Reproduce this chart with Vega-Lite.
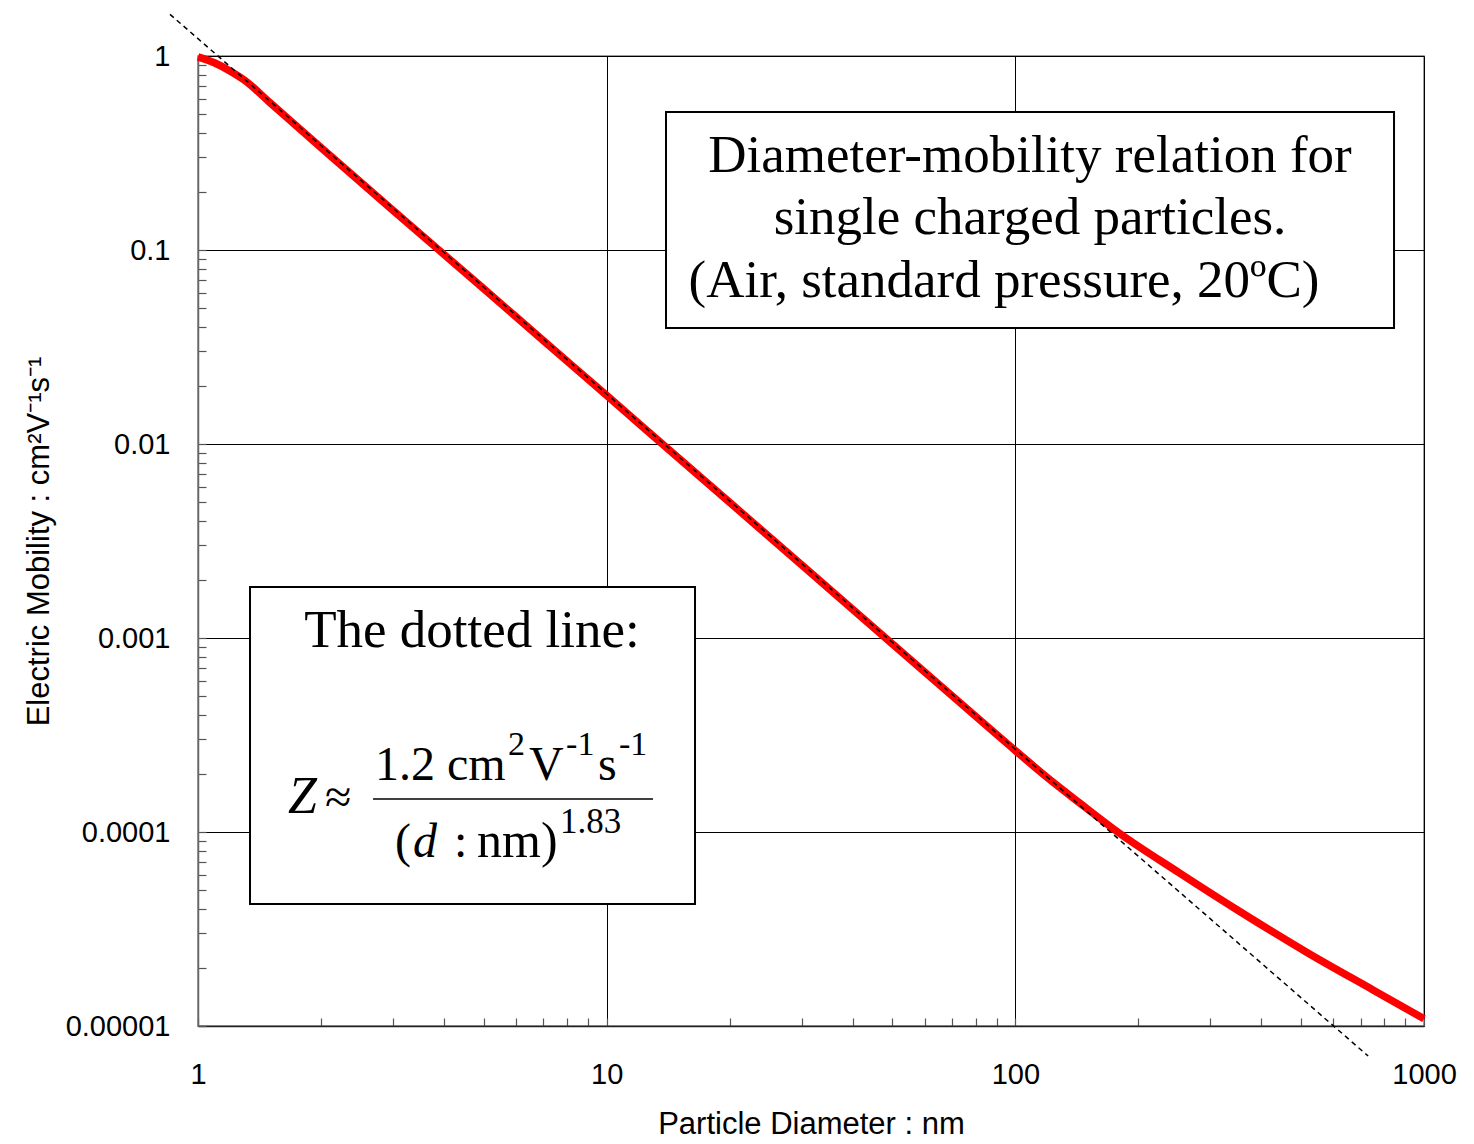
{
  "$schema": "https://vega.github.io/schema/vega-lite/v6.json",
  "width": 1226,
  "height": 970,
  "autosize": {"type": "none"},
  "padding": {"left": 198, "top": 56, "right": 50, "bottom": 118},
  "background": "white",
  "data": {"values": [{}]},
  "config": {
    "view": {"stroke": "#808080", "strokeWidth": 1.5},
    "axis": {"labelFont": "Liberation Sans", "titleFont": "Liberation Sans", "labelColor": "black", "titleColor": "black", "titleFontWeight": "normal"}
  },
  "datasets": {
    "mobility": [
      {"d": 1, "z": 0.99},
      {"d": 1.1, "z": 0.92},
      {"d": 1.2, "z": 0.835},
      {"d": 1.3, "z": 0.75},
      {"d": 1.5, "z": 0.575},
      {"d": 2, "z": 0.337},
      {"d": 3, "z": 0.16},
      {"d": 5, "z": 0.0632},
      {"d": 7, "z": 0.0341},
      {"d": 10, "z": 0.0178},
      {"d": 15, "z": 0.00845},
      {"d": 20, "z": 0.005},
      {"d": 30, "z": 0.00238},
      {"d": 50, "z": 0.000932},
      {"d": 70, "z": 0.000504},
      {"d": 100, "z": 0.000263},
      {"d": 120, "z": 0.00019},
      {"d": 144, "z": 0.0001406},
      {"d": 178, "z": 0.0001},
      {"d": 253, "z": 0.0000612},
      {"d": 355, "z": 0.0000388},
      {"d": 516, "z": 0.000024},
      {"d": 752, "z": 0.0000153},
      {"d": 1000, "z": 0.0000109}
    ],
    "fit": [
      {"d": 0.854, "z": 1.64},
      {"d": 730, "z": 0.000007}
    ]
  },
  "layer": [
    {
      "data": {"name": "mobility"},
      "mark": {"type": "line", "color": "#FF0000", "strokeWidth": 7.5, "strokeCap": "butt", "strokeJoin": "round", "interpolate": "monotone", "clip": false},
      "encoding": {
        "x": {
          "field": "d", "type": "quantitative",
          "scale": {"type": "log", "domain": [1, 1000], "nice": false},
          "axis": {
            "title": "Particle Diameter : nm",
            "titleFontSize": 31,
            "titlePadding": 20,
            "values": [1,2,3,4,5,6,7,8,9,10,20,30,40,50,60,70,80,90,100,200,300,400,500,600,700,800,900,1000],
            "format": "d",
            "labelExpr": "abs(log(datum.value)/LN10 - round(log(datum.value)/LN10)) < 0.0001 ? datum.label : ''",
            "labelFontSize": 29,
            "labelPadding": 42,
            "labelOverlap": false,
            "labelFlush": false,
            "tickSize": -8,
            "tickColor": "#555555",
            "tickWidth": 1.2,
            "domainColor": "#222222",
            "domainWidth": 1.5,
            "grid": true,
            "gridColor": "black",
            "gridWidth": 1,
            "gridOpacity": {"condition": {"test": "abs(log(datum.value)/LN10 - round(log(datum.value)/LN10)) < 0.0001", "value": 1}, "value": 0}
          }
        },
        "y": {
          "field": "z", "type": "quantitative",
          "scale": {"type": "log", "domain": [0.00001, 1], "nice": false},
          "axis": {
            "title": "Electric Mobility : cm²V⁻¹s⁻¹",
            "titleFontSize": 31,
            "titlePadding": 10,
            "values": [0.00001,0.00002,0.00003,0.00004,0.00005,0.00006,0.00007,0.00008,0.00009,0.0001,0.0002,0.0003,0.0004,0.0005,0.0006,0.0007,0.0008,0.0009,0.001,0.002,0.003,0.004,0.005,0.006,0.007,0.008,0.009,0.01,0.02,0.03,0.04,0.05,0.06,0.07,0.08,0.09,0.1,0.2,0.3,0.4,0.5,0.6,0.7,0.8,0.9,1],
            "format": ".5~f",
            "labelExpr": "abs(log(datum.value)/LN10 - round(log(datum.value)/LN10)) < 0.0001 ? datum.label : ''",
            "labelFontSize": 29,
            "labelPadding": 36,
            "labelOverlap": false,
            "labelFlush": false,
            "tickSize": -8,
            "tickColor": "#555555",
            "tickWidth": 1.2,
            "domainColor": "#666666",
            "domainWidth": 1.5,
            "grid": true,
            "gridColor": "black",
            "gridWidth": 1,
            "gridOpacity": {"condition": {"test": "abs(log(datum.value)/LN10 - round(log(datum.value)/LN10)) < 0.0001", "value": 1}, "value": 0}
          }
        }
      }
    },
    {
      "data": {"name": "fit"},
      "mark": {"type": "line", "color": "black", "strokeWidth": 1.5, "strokeDash": [5, 4], "clip": false},
      "encoding": {
        "x": {"field": "d", "type": "quantitative"},
        "y": {"field": "z", "type": "quantitative"}
      }
    },
    {
      "mark": {"type": "rect", "fill": "white", "stroke": "black", "strokeWidth": 2},
      "encoding": {
        "x": {"datum": 13.97, "type": "quantitative"}, "x2": {"datum": 844.6},
        "y": {"datum": 0.51443, "type": "quantitative"}, "y2": {"datum": 0.039628}
      }
    },
    {
      "mark": {"type": "rect", "fill": "white", "stroke": "black", "strokeWidth": 2},
      "encoding": {
        "x": {"datum": 1.3405, "type": "quantitative"}, "x2": {"datum": 16.451},
        "y": {"datum": 0.0018323, "type": "quantitative"}, "y2": {"datum": 0.00004254}
      }
    },
    {
      "mark": {"type": "text", "text": "Diameter-mobility relation for", "font": "Liberation Serif", "fontSize": 53, "align": "center", "baseline": "alphabetic", "color": "black"},
      "encoding": {"x": {"datum": 108.61, "type": "quantitative"}, "y": {"datum": 0.25236, "type": "quantitative"}}
    },
    {
      "mark": {"type": "text", "text": "single charged particles.", "font": "Liberation Serif", "fontSize": 53, "align": "center", "baseline": "alphabetic", "color": "black"},
      "encoding": {"x": {"datum": 108.61, "type": "quantitative"}, "y": {"datum": 0.12092, "type": "quantitative"}}
    },
    {
      "mark": {"type": "text", "text": "(Air, standard pressure, 20ºC)", "font": "Liberation Serif", "fontSize": 53, "align": "center", "baseline": "alphabetic", "color": "black"},
      "encoding": {"x": {"datum": 93.81, "type": "quantitative"}, "y": {"datum": 0.057249, "type": "quantitative"}}
    },
    {
      "mark": {"type": "text", "text": "The dotted line:", "font": "Liberation Serif", "fontSize": 53, "align": "center", "baseline": "alphabetic", "color": "black"},
      "encoding": {"x": {"datum": 4.6826, "type": "quantitative"}, "y": {"datum": 0.00089877, "type": "quantitative"}}
    },
    {
      "mark": {"type": "text", "text": "Z", "font": "Liberation Serif", "fontStyle": "italic", "fontSize": 52, "align": "left", "baseline": "alphabetic", "color": "black"},
      "encoding": {"x": {"datum": 1.6606, "type": "quantitative"}, "y": {"datum": 0.00012531, "type": "quantitative"}}
    },
    {
      "mark": {"type": "text", "text": "≈", "font": "Liberation Serif", "fontSize": 48, "align": "left", "baseline": "alphabetic", "color": "black"},
      "encoding": {"x": {"datum": 2.0455, "type": "quantitative"}, "y": {"datum": 0.00012531, "type": "quantitative"}}
    },
    {
      "mark": {"type": "text", "text": "1.2 cm", "font": "Liberation Serif", "fontSize": 48, "align": "left", "baseline": "alphabetic", "color": "black"},
      "encoding": {"x": {"datum": 2.7116, "type": "quantitative"}, "y": {"datum": 0.00018535, "type": "quantitative"}}
    },
    {
      "mark": {"type": "text", "text": "2", "font": "Liberation Serif", "fontSize": 34, "align": "left", "baseline": "alphabetic", "color": "black"},
      "encoding": {"x": {"datum": 5.7349, "type": "quantitative"}, "y": {"datum": 0.00024929, "type": "quantitative"}}
    },
    {
      "mark": {"type": "text", "text": "V", "font": "Liberation Serif", "fontSize": 48, "align": "left", "baseline": "alphabetic", "color": "black"},
      "encoding": {"x": {"datum": 6.4557, "type": "quantitative"}, "y": {"datum": 0.00018535, "type": "quantitative"}}
    },
    {
      "mark": {"type": "text", "text": "-1", "font": "Liberation Serif", "fontSize": 34, "align": "left", "baseline": "alphabetic", "color": "black"},
      "encoding": {"x": {"datum": 7.955, "type": "quantitative"}, "y": {"datum": 0.00024929, "type": "quantitative"}}
    },
    {
      "mark": {"type": "text", "text": "s", "font": "Liberation Serif", "fontSize": 48, "align": "left", "baseline": "alphabetic", "color": "black"},
      "encoding": {"x": {"datum": 9.524, "type": "quantitative"}, "y": {"datum": 0.00018535, "type": "quantitative"}}
    },
    {
      "mark": {"type": "text", "text": "-1", "font": "Liberation Serif", "fontSize": 34, "align": "left", "baseline": "alphabetic", "color": "black"},
      "encoding": {"x": {"datum": 10.719, "type": "quantitative"}, "y": {"datum": 0.00024929, "type": "quantitative"}}
    },
    {
      "mark": {"type": "rule", "color": "black", "strokeWidth": 1.5},
      "encoding": {"x": {"datum": 2.6812, "type": "quantitative"}, "x2": {"datum": 12.984}, "y": {"datum": 0.00014798, "type": "quantitative"}}
    },
    {
      "mark": {"type": "text", "text": "(", "font": "Liberation Serif", "fontSize": 48, "align": "left", "baseline": "alphabetic", "color": "black"},
      "encoding": {"x": {"datum": 3.0344, "type": "quantitative"}, "y": {"datum": 0.000074307, "type": "quantitative"}}
    },
    {
      "mark": {"type": "text", "text": "d", "font": "Liberation Serif", "fontStyle": "italic", "fontSize": 48, "align": "left", "baseline": "alphabetic", "color": "black"},
      "encoding": {"x": {"datum": 3.3581, "type": "quantitative"}, "y": {"datum": 0.000074307, "type": "quantitative"}}
    },
    {
      "mark": {"type": "text", "text": ":", "font": "Liberation Serif", "fontSize": 48, "align": "left", "baseline": "alphabetic", "color": "black"},
      "encoding": {"x": {"datum": 4.2307, "type": "quantitative"}, "y": {"datum": 0.000074307, "type": "quantitative"}}
    },
    {
      "mark": {"type": "text", "text": "nm)", "font": "Liberation Serif", "fontSize": 50, "align": "left", "baseline": "alphabetic", "color": "black"},
      "encoding": {"x": {"datum": 4.8165, "type": "quantitative"}, "y": {"datum": 0.000074307, "type": "quantitative"}}
    },
    {
      "mark": {"type": "text", "text": "1.83", "font": "Liberation Serif", "fontSize": 35, "align": "left", "baseline": "alphabetic", "color": "black"},
      "encoding": {"x": {"datum": 7.6897, "type": "quantitative"}, "y": {"datum": 0.00009882, "type": "quantitative"}}
    }
  ]
}
